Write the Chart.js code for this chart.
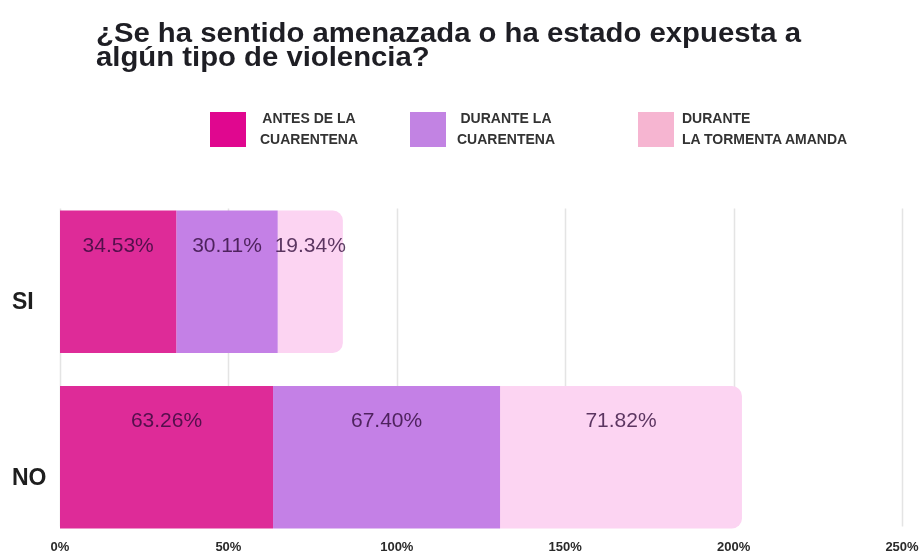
<!DOCTYPE html>
<html>
<head>
<meta charset="utf-8">
<script src="https://cdn.jsdelivr.net/npm/chart.js@4"></script>
<style>
  html, body { margin: 0; padding: 0; background: #fff; }
  #wrap { position: relative; width: 923px; height: 553px; overflow: hidden; font-family: "Liberation Sans", Arial, sans-serif; }
  #title { position: absolute; left: 96px; top: 21px; font-size: 27px; font-weight: bold; line-height: 24px; color: #1e1e24; white-space: nowrap; transform: scaleX(1.085); transform-origin: left top; }
  .lg-box { position: absolute; top: 112px; width: 36px; height: 35px; }
  .lg-text { position: absolute; top: 108px; font-size: 14px; font-weight: bold; line-height: 21px; color: #333; white-space: nowrap; }
  canvas { position: absolute; left: 0; top: 0; }
</style>
</head>
<body>
<div id="wrap">
  <canvas id="chart" width="923" height="553"></canvas>
  <div id="title">¿Se ha sentido amenazada o ha estado expuesta a<br>algún tipo de violencia?</div>
  <div id="legend"></div>
</div>
<script>
const categories = ["SI", "NO"];
const seriesNames = [
  ["ANTES DE LA", "CUARENTENA"],
  ["DURANTE LA", "CUARENTENA"],
  ["DURANTE", "LA TORMENTA AMANDA"]
];
const antes = [34.53, 63.26];
const durante = [30.11, 67.40];
const tormenta = [19.34, 71.82];
const xTicks = [0, 50, 100, 150, 200, 250];

const barColors = ["#de2b98", "#c480e6", "#fcd4f2"];
const legendColors = ["#e0078f", "#c283e3", "#f6b5d1"];
const FONT = "'Liberation Sans', Arial, sans-serif";

// legend drawn as html, two lines per entry
const legendPos = [
  { box: 210, text: 309, align: "center" },
  { box: 410, text: 506, align: "center" },
  { box: 638, text: 682, align: "left" }
];
const legend = document.getElementById("legend");
seriesNames.forEach((lines, i) => {
  const box = document.createElement("div");
  box.className = "lg-box";
  box.style.left = legendPos[i].box + "px";
  box.style.background = legendColors[i];
  legend.appendChild(box);

  const t = document.createElement("div");
  t.className = "lg-text";
  t.innerHTML = lines.join("<br>");
  t.style.textAlign = legendPos[i].align;
  if (legendPos[i].align === "center") {
    t.style.left = (legendPos[i].text - 100) + "px";
    t.style.width = "200px";
  } else {
    t.style.left = legendPos[i].text + "px";
  }
  legend.appendChild(t);
});

/* vertical grid lines only across the bars, plus the % tick labels under them */
const gridPlugin = {
  id: "gridPlugin",
  beforeDatasetsDraw(chart) {
    const { ctx, scales, chartArea } = chart;
    const first = chart.getDatasetMeta(0).data;
    const top = first[0].y - first[0].height / 2 - 2;
    const last = first[first.length - 1];
    const bottom = last.y + last.height / 2 - 2;
    ctx.save();
    ctx.strokeStyle = "#e4e4e4";
    ctx.lineWidth = 1.5;
    xTicks.forEach(v => {
      const x = Math.round(scales.x.getPixelForValue(v)) + 0.5;
      ctx.beginPath();
      ctx.moveTo(x, top);
      ctx.lineTo(x, bottom);
      ctx.stroke();
    });

    ctx.fillStyle = "#2a2a2a";
    ctx.font = "bold 13px " + FONT;
    ctx.textAlign = "center";
    ctx.textBaseline = "middle";
    xTicks.forEach(v => {
      ctx.fillText(v + "%", scales.x.getPixelForValue(v), chartArea.bottom + 2);
    });
    ctx.restore();
  }
};

/* value labels inside each segment, near the top */
const valueLabels = {
  id: "valueLabels",
  afterDatasetsDraw(chart) {
    const { ctx } = chart;
    ctx.save();
    ctx.font = "21px " + FONT;
    ctx.fillStyle = "rgba(45, 8, 55, 0.78)";
    ctx.textAlign = "center";
    ctx.textBaseline = "middle";
    chart.data.datasets.forEach((ds, di) => {
      chart.getDatasetMeta(di).data.forEach((el, i) => {
        const cx = (el.x + el.base) / 2;
        const cy = el.y - el.height * 0.25;
        ctx.fillText(ds.data[i].toFixed(2) + "%", cx, cy);
      });
    });
    ctx.restore();
  }
};

new Chart(document.getElementById("chart"), {
  type: "bar",
  data: {
    labels: categories,
    datasets: [
      { label: seriesNames[0].join(" "), data: antes, backgroundColor: barColors[0] },
      { label: seriesNames[1].join(" "), data: durante, backgroundColor: barColors[1] },
      { label: seriesNames[2].join(" "), data: tormenta, backgroundColor: barColors[2],
        borderRadius: 10, borderSkipped: "start" }
    ]
  },
  options: {
    indexAxis: "y",
    responsive: false,
    animation: false,
    layout: { padding: { left: 12, right: 21, top: 194, bottom: 8 } },
    datasets: {
      bar: { categoryPercentage: 1, barPercentage: 0.8125 }
    },
    plugins: {
      legend: { display: false },
      tooltip: { enabled: false }
    },
    scales: {
      x: {
        stacked: true,
        min: 0,
        max: 250,
        grid: { display: false, drawTicks: false },
        border: { display: false },
        ticks: { display: false, stepSize: 50 }
      },
      y: {
        stacked: true,
        afterFit(scale) {
          scale.width = 48;
          scale.paddingTop = 0;
          scale.paddingBottom = 0;
        },
        grid: { display: false, drawTicks: false },
        border: { display: false },
        ticks: {
          crossAlign: "far",
          labelOffset: 21,
          color: "#1e1e1e",
          font: { family: FONT, size: 23, weight: "bold" }
        }
      }
    }
  },
  plugins: [gridPlugin, valueLabels]
});
</script>
</body>
</html>
